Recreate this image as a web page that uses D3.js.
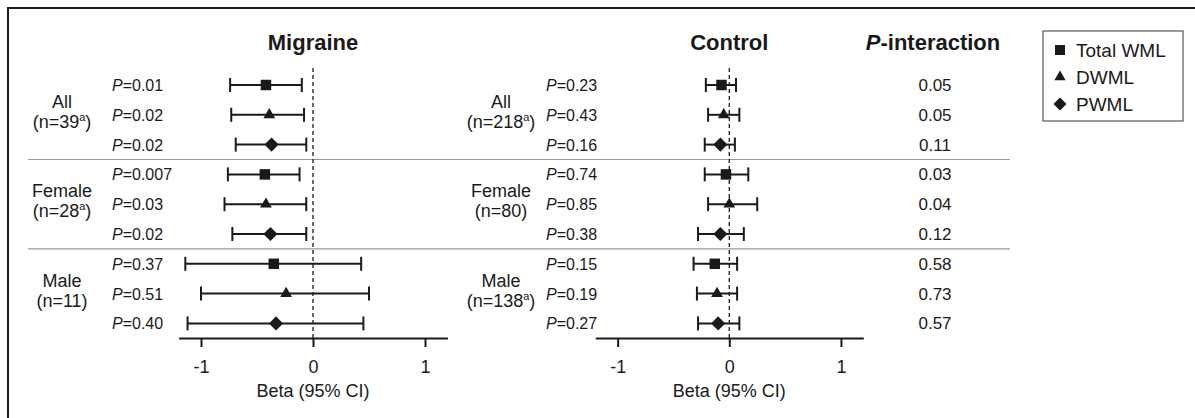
<!DOCTYPE html>
<html>
<head>
<meta charset="utf-8">
<script src="https://cdn.jsdelivr.net/npm/d3@7"></script>
<style>
  body { margin: 0; background: #fff; }
  svg text { font-family: "Liberation Sans", Arial, Helvetica, sans-serif; fill: #1a1a1a; }
</style>
</head>
<body>
<div class="forest-container"></div>
<script>
// rows: All / Female / Male, each with Total WML, DWML, PWML
const groups = ["All", "Female", "Male"];
const measures = ["Total WML", "DWML", "PWML"];

const migraineN = ["39", "28", "11"];
const migraineSup = [true, true, false];
const controlN = ["218", "80", "138"];
const controlSup = [true, false, true];

const migraineBeta = [-0.42, -0.39, -0.37, -0.43, -0.42, -0.38, -0.35, -0.24, -0.33];
const migraineLow  = [-0.74, -0.73, -0.69, -0.76, -0.79, -0.72, -1.14, -1.00, -1.12];
const migraineHigh = [-0.10, -0.08, -0.06, -0.12, -0.06, -0.06, 0.43, 0.50, 0.45];
const migraineP = ["0.01", "0.02", "0.02", "0.007", "0.03", "0.02", "0.37", "0.51", "0.40"];

const controlBeta = [-0.07, -0.05, -0.08, -0.03, 0.00, -0.08, -0.13, -0.11, -0.10];
const controlLow  = [-0.21, -0.19, -0.22, -0.22, -0.19, -0.28, -0.32, -0.29, -0.28];
const controlHigh = [0.06, 0.09, 0.05, 0.17, 0.25, 0.13, 0.07, 0.07, 0.09];
const controlP = ["0.23", "0.43", "0.16", "0.74", "0.85", "0.38", "0.15", "0.19", "0.27"];

const pInteraction = ["0.05", "0.05", "0.11", "0.03", "0.04", "0.12", "0.58", "0.73", "0.57"];

const xTicks = [-1, 0, 1];

const svg_width = 1195;
const svg_height = 418;

const svg = d3.select('.forest-container').append('svg')
    .attr('width', svg_width).attr('height', svg_height);

// frame (left + top only visible)
svg.append('path')
    .attr('d', `M8,${svg_height} L8,8 L${svg_width},8`)
    .attr('fill', 'none').attr('stroke', '#1a1a1a').attr('stroke-width', 2);

const rowIdx = d3.range(9);
const yScale = d3.scalePoint().domain(rowIdx).range([85, 323.4]);
const step = yScale.step();
const axisY = 338;

// group separators
[2.5, 5.5].forEach(r => {
    const y = yScale(Math.floor(r)) + step / 2;
    svg.append('line').attr('x1', 28).attr('x2', 1010).attr('y1', y).attr('y2', y)
        .attr('stroke', '#9a9a9a').attr('stroke-width', 1.2);
});

function symbolFor(i) {
    const m = i % 3;
    if (m === 0) return {type: d3.symbolSquare, size: 110, rot: 0};
    if (m === 1) return {type: d3.symbolTriangle, size: 60, rot: 0};
    return {type: d3.symbolSquare, size: 100, rot: 45};
}

function drawPanel(opt) {
    const xScale = d3.scaleLinear([-1.2, 1.2], opt.range);
    const g = svg.append('g');

    g.append('text')
        .attr('x', xScale(0)).attr('y', 50)
        .attr('text-anchor', 'middle')
        .style('font-size', '22px').style('font-weight', 'bold')
        .text(opt.title);

    // reference line at 0
    g.append('line')
        .attr('x1', xScale(0)).attr('x2', xScale(0))
        .attr('y1', 68).attr('y2', axisY)
        .attr('stroke', '#1a1a1a').attr('stroke-width', 1.3)
        .attr('stroke-dasharray', '4,3');

    // axis
    const xAxis = d3.axisBottom(xScale).tickValues(xTicks).tickSizeInner(9).tickSizeOuter(0)
        .tickFormat(d => String(d));
    const xAxisDraw = g.append('g').attr('class', 'x axis')
        .attr('transform', `translate(0,${axisY})`)
        .call(xAxis);
    xAxisDraw.select('.domain').attr('stroke', '#1a1a1a').attr('stroke-width', 2);
    xAxisDraw.selectAll('.tick line').attr('stroke', '#1a1a1a').attr('stroke-width', 2);
    xAxisDraw.selectAll('.tick text')
        .attr('y', 35).attr('dy', 0)
        .style('font-size', '18px').style('fill', '#1a1a1a');

    g.append('text')
        .attr('x', xScale(0)).attr('y', 397)
        .attr('text-anchor', 'middle')
        .style('font-size', '18px')
        .text('Beta (95% CI)');

    // group labels
    groups.forEach((grp, k) => {
        const mid = yScale(k * 3 + 1);
        g.append('text')
            .attr('x', opt.groupX).attr('y', mid - 7)
            .attr('text-anchor', 'middle').style('font-size', '18px')
            .text(grp);
        const t = g.append('text')
            .attr('x', opt.groupX).attr('y', mid + 13)
            .attr('text-anchor', 'middle').style('font-size', '18px');
        t.append('tspan').text(`(n=${opt.n[k]}`);
        if (opt.sup[k]) {
            t.append('tspan').attr('dy', -7).style('font-size', '11px').text('a');
            t.append('tspan').attr('dy', 7).text(')');
        } else {
            t.append('tspan').text(')');
        }
    });

    // P labels
    rowIdx.forEach(i => {
        const t = g.append('text')
            .attr('x', opt.pX).attr('y', yScale(i) + 6)
            .style('font-size', '16px');
        t.append('tspan').style('font-style', 'italic').text('P');
        t.append('tspan').text(`=${opt.p[i]}`);
    });

    // CI bars
    const rows = g.selectAll('.row').data(rowIdx).enter().append('g').attr('class', 'row');
    rows.append('line')
        .attr('x1', i => xScale(opt.low[i])).attr('x2', i => xScale(opt.high[i]))
        .attr('y1', i => yScale(i)).attr('y2', i => yScale(i))
        .attr('stroke', '#1a1a1a').attr('stroke-width', 2);
    rows.append('line')
        .attr('x1', i => xScale(opt.low[i])).attr('x2', i => xScale(opt.low[i]))
        .attr('y1', i => yScale(i) - 7).attr('y2', i => yScale(i) + 7)
        .attr('stroke', '#1a1a1a').attr('stroke-width', 2);
    rows.append('line')
        .attr('x1', i => xScale(opt.high[i])).attr('x2', i => xScale(opt.high[i]))
        .attr('y1', i => yScale(i) - 7).attr('y2', i => yScale(i) + 7)
        .attr('stroke', '#1a1a1a').attr('stroke-width', 2);
    rows.append('path')
        .attr('d', i => d3.symbol().type(symbolFor(i).type).size(symbolFor(i).size)())
        .attr('transform', i => `translate(${xScale(opt.beta[i])},${yScale(i)}) rotate(${symbolFor(i).rot})`)
        .attr('fill', '#1a1a1a');
}

drawPanel({
    title: 'Migraine', range: [178.6, 447.4], groupX: 62, pX: 112,
    n: migraineN, sup: migraineSup,
    beta: migraineBeta, low: migraineLow, high: migraineHigh, p: migraineP
});

drawPanel({
    title: 'Control', range: [595.3, 863.3], groupX: 501, pX: 546,
    n: controlN, sup: controlSup,
    beta: controlBeta, low: controlLow, high: controlHigh, p: controlP
});

// P-interaction column
const header = svg.append('text')
    .attr('x', 933).attr('y', 50).attr('text-anchor', 'middle')
    .style('font-size', '22px').style('font-weight', 'bold');
header.append('tspan').style('font-style', 'italic').text('P');
header.append('tspan').text('-interaction');

svg.selectAll('.pint').data(pInteraction).enter().append('text')
    .attr('class', 'pint')
    .attr('x', 935).attr('y', (d, i) => yScale(i) + 6)
    .attr('text-anchor', 'middle')
    .style('font-size', '17px')
    .text(d => d);

// legend
const legend = svg.append('g').attr('transform', 'translate(1043,31)');
legend.append('rect').attr('width', 140).attr('height', 90)
    .attr('fill', 'none').attr('stroke', '#555').attr('stroke-width', 1.2);
const legendSyms = [
    {type: d3.symbolSquare, size: 100, rot: 0},
    {type: d3.symbolTriangle, size: 55, rot: 0},
    {type: d3.symbolSquare, size: 85, rot: 45}
];
measures.forEach((m, i) => {
    const cy = 19 + i * 27;
    legend.append('path')
        .attr('d', d3.symbol().type(legendSyms[i].type).size(legendSyms[i].size)())
        .attr('transform', `translate(17,${cy}) rotate(${legendSyms[i].rot})`)
        .attr('fill', '#1a1a1a');
    legend.append('text')
        .attr('x', 33).attr('y', cy + 7)
        .style('font-size', '19px')
        .text(m);
});
</script>
</body>
</html>
